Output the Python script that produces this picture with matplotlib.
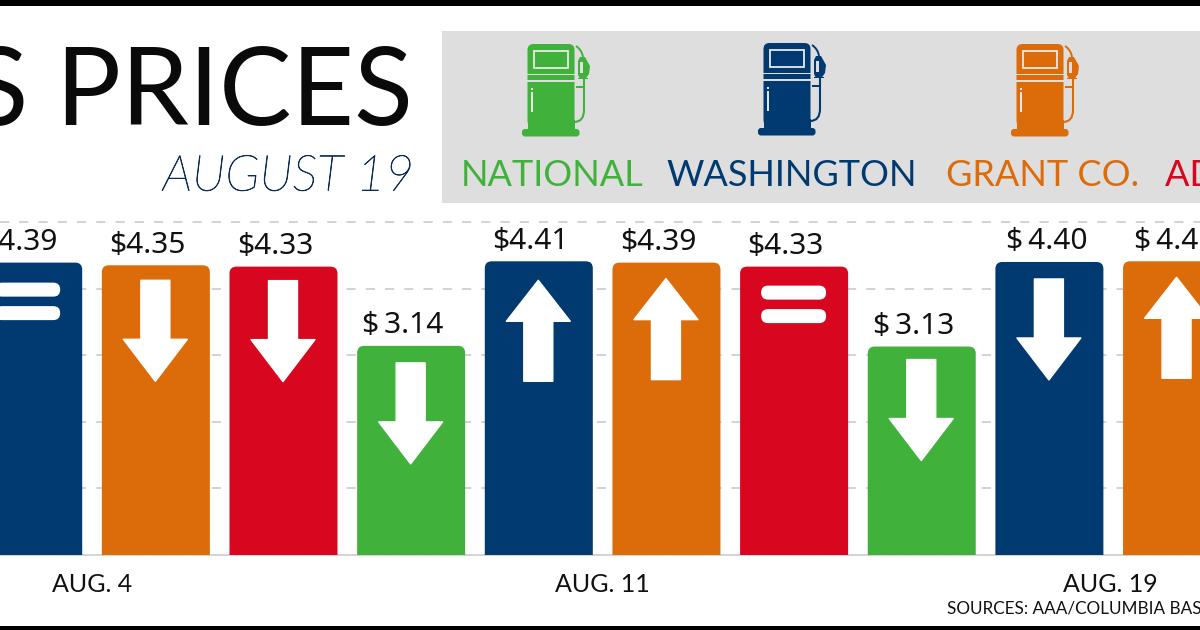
import matplotlib
matplotlib.use("Agg")
import matplotlib.pyplot as plt
import matplotlib.patheffects as pe
from matplotlib.patches import Rectangle, FancyBboxPatch, PathPatch, Polygon
from matplotlib.path import Path
from matplotlib.transforms import Affine2D

# ---- data -------------------------------------------------------------
date_labels = ["AUG. 4", "AUG. 11", "AUG. 19"]
series_names = ["WASHINGTON", "GRANT CO.", "ADAMS CO.", "NATIONAL"]
washington = [4.39, 4.41, 4.40]
grant = [4.35, 4.39, 4.41]
adams = [4.33, 4.33]
national = [3.14, 3.13]
washington_trend = ["same", "up", "down"]
grant_trend = ["down", "up", "up"]
adams_trend = ["down", "same"]
national_trend = ["down", "down"]
grid_values = [0, 1, 2, 3, 4, 5]

# ---- styles -----------------------------------------------------------
NAVY, ORANGE, RED, GREEN = "#003a70", "#dc6c0a", "#d8071f", "#40b23c"
PANEL = "#dedede"
FONT = "Lato"
LABEL_FONT = "Noto Sans"
colors = [NAVY, ORANGE, RED, GREEN]
series_values = [washington, grant, adams, national]
series_trends = [washington_trend, grant_trend, adams_trend, national_trend]
spaced_labels = {(3, 0), (3, 1), (0, 2), (1, 2)}
label_shift = {(0, 2): -2.5, (1, 2): -2.5}
marker_gap = {(0, 0): 20, (1, 0): 15, (2, 0): 14, (3, 0): 17,
              (0, 1): 19, (1, 1): 16, (2, 1): 19, (3, 1): 13,
              (0, 2): 17, (1, 2): 16}

fig = plt.figure(figsize=(12, 6.3), dpi=100, facecolor="white")

# decoration layer in pixel units
deco = fig.add_axes([0, 0, 1, 1], zorder=0)
deco.set_xlim(0, 1200)
deco.set_ylim(630, 0)
deco.axis("off")
deco.add_patch(Rectangle((0, 0), 1200, 5.5, color="black", lw=0))
deco.add_patch(Rectangle((0, 626), 1200, 4, color="black", lw=0))
deco.add_patch(Rectangle((442, 31), 760, 172, color=PANEL, lw=0))

deco.text(413, 125, "GAS PRICES", ha="right", va="baseline", family=FONT,
          fontsize=78, color="#0a0a0a", weight="normal")
deco.text(414, 190.5, "AUGUST 19", ha="right", va="baseline", family=FONT,
          fontsize=35.8, color="#0b2a55", style="italic", weight="light",
          path_effects=[pe.withStroke(linewidth=0.5, foreground="#0b2a55")])
deco.text(947, 614, "SOURCES: AAA/COLUMBIA BASIN HERALD", ha="left", va="baseline",
          family=FONT, fontsize=12.3, color="#111111")


def pump(dx, dy, color):
    X = lambda v: v + dx
    Y = lambda v: v + dy
    body = FancyBboxPatch((X(527.5), Y(44)), 47, 83,
                          boxstyle="round,pad=0,rounding_size=6",
                          fc=color, ec="none", zorder=2)
    deco.add_patch(body)
    deco.add_patch(Rectangle((X(527.5), Y(120)), 47, 9, fc=color, ec="none", zorder=2))
    deco.add_patch(Rectangle((X(533.5), Y(51)), 34, 16.5, fc=color, ec="#eaeaea", lw=1.3, zorder=3))
    for yy in (73.5, 80):
        deco.add_patch(Rectangle((X(527), Y(yy)), 48, 1.6, fc=PANEL, ec="none", zorder=3))
    deco.add_patch(Rectangle((X(530.8), Y(92)), 1.8, 20, fc="#e6e6e6", ec="none", zorder=3))
    deco.add_patch(Rectangle((X(530.8), Y(87.5)), 1.8, 2, fc="#e6e6e6", ec="none", zorder=3))
    deco.add_patch(FancyBboxPatch((X(522), Y(129)), 57.5, 7.5,
                                  boxstyle="round,pad=0,rounding_size=3",
                                  fc=color, ec="none", zorder=3))
    # hose
    hose = Path([(X(574), Y(122)), (X(584), Y(122)), (X(584), Y(110)),
                 (X(584), Y(78))],
                [Path.MOVETO, Path.CURVE3, Path.CURVE3, Path.LINETO])
    deco.add_patch(PathPatch(hose, fc="none", ec=color, lw=1.5, zorder=2))
    neck = Path([(X(576), Y(46)), (X(582), Y(50)), (X(583), Y(57))],
                [Path.MOVETO, Path.CURVE3, Path.CURVE3])
    deco.add_patch(PathPatch(neck, fc="none", ec=color, lw=1.4, zorder=2))
    deco.add_patch(Polygon([(X(580), Y(57)), (X(585), Y(57)), (X(590), Y(66)),
                            (X(589), Y(74)), (X(585.5), Y(79)), (X(580), Y(79)),
                            (X(578), Y(75)), (X(578), Y(61))],
                           closed=True, fc=color, ec="none", zorder=3))
    deco.add_patch(Rectangle((X(579.5), Y(62)), 3, 11, fc=PANEL, ec="none", zorder=4))
    deco.add_patch(Rectangle((X(578), Y(78)), 10, 1.4, fc=color, ec="none", zorder=3))
    deco.add_patch(Rectangle((X(576), Y(86)), 8, 1.6, fc=color, ec="none", zorder=3))


pump(0, 0, GREEN)
pump(236, -1, NAVY)
pump(489, 0, ORANGE)

legend_order = [3, 0, 1, 2]
legend_x = [552, 792, 1043, 1165]
legend_ha = ["center", "center", "center", "left"]
for k, x, ha in zip(legend_order, legend_x, legend_ha):
    deco.text(x, 186, series_names[k], ha=ha, va="baseline", family=FONT,
              fontsize=26, color=colors[k])

# ---- chart ------------------------------------------------------------
STEP = 127.65    # pixels between neighbouring bars
X0 = 28.2        # pixel centre of the first bar
BAR_PX = 108.0
ax = fig.add_axes([0, 75 / 630, 1, 333 / 630], zorder=1)
ax.patch.set_alpha(0)
ax.set_xlim(-X0 / STEP, (1200 - X0) / STEP)
ax.set_ylim(0, 5)
for s in ax.spines.values():
    s.set_visible(False)
ax.set_yticks(grid_values)
ax.tick_params(axis="y", length=0, labelleft=False)
ax.tick_params(axis="x", length=0, pad=13)
ax.set_xticks([0.5, 4.5, 8.48])
ax.set_xticklabels(date_labels, family=FONT, fontsize=18, color="#111111")
ax.grid(axis="y", color="#c6c6c6", lw=1.1, linestyle=(0, (6, 6.6)), zorder=0, clip_on=False)
ax.set_axisbelow(True)
ax.axhline(0, color="#d4d4d4", lw=1.4, zorder=1, clip_on=False)

w = BAR_PX / STEP
rx = 7 / STEP
ry = 7 * 5 / 333


def rounded_bar(i, v, color):
    l, r = i - w / 2, i + w / 2
    verts = [(l, 0), (l, v - ry), (l, v), (l + rx, v), (r - rx, v), (r, v), (r, v - ry), (r, 0), (l, 0)]
    codes = [Path.MOVETO, Path.LINETO, Path.CURVE3, Path.CURVE3, Path.LINETO,
             Path.CURVE3, Path.CURVE3, Path.LINETO, Path.CLOSEPOLY]
    ax.add_patch(PathPatch(Path(verts, codes), fc=color, ec="none", zorder=2, clip_on=False))


def marker(i, v, trend, gap):
    # shape in pixels below the bar top, anchored to the bar through the data scale
    px, py = ax.transData.transform((i, v))
    tr = Affine2D().scale(1, -1).translate(px - 0.5, py)
    if trend == "same":
        for top in (gap, gap + 23.5):
            ax.add_patch(FancyBboxPatch((-32.5, top), 65, 14, boxstyle="round,pad=0,rounding_size=7",
                                        fc="white", ec="none", zorder=3, transform=tr, clip_on=False))
        return
    if trend == "down":
        pts = [(-14.5, gap), (14.5, gap), (14.5, gap + 59), (32, gap + 59), (0, gap + 101),
               (-32, gap + 59), (-14.5, gap + 59)]
    else:
        pts = [(0, gap), (32, gap + 41), (14.5, gap + 41), (14.5, gap + 101), (-14.5, gap + 101),
               (-14.5, gap + 41), (-32, gap + 41)]
    ax.add_patch(Polygon(pts, closed=True, fc="white", ec="white", lw=1, joinstyle="round",
                         zorder=3, transform=tr, clip_on=False))


for s, (vals, trends, color) in enumerate(zip(series_values, series_trends, colors)):
    for d, (v, t) in enumerate(zip(vals, trends)):
        i = d * 4 + s
        rounded_bar(i, v, color)
        marker(i, v, t, marker_gap[(s, d)])
        label = f"$\u2009{v:.2f}" if (s, d) in spaced_labels else f"${v:.2f}"
        shift_px = label_shift.get((s, d), -8.5)
        ax.annotate(label.replace("$", r"\$"), (i, v), xytext=(shift_px * 0.72, 9),
                    textcoords="offset points", ha="center", va="baseline",
                    family=LABEL_FONT, fontsize=21.5, color="#111111",
                    zorder=4, annotation_clip=False)

fig.savefig("out.png", dpi=100, facecolor="white")
